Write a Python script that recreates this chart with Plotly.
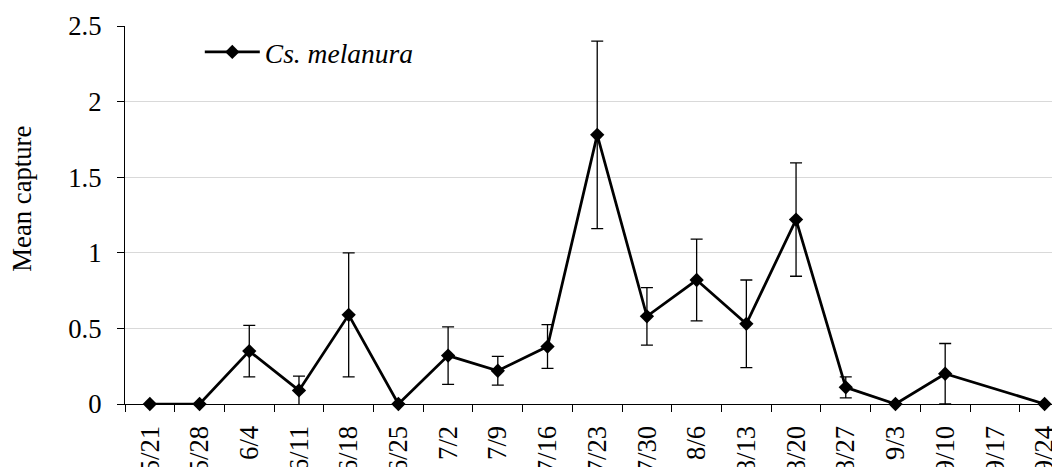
import plotly.graph_objects as go

dates = ["5/21", "5/28", "6/4", "6/11", "6/18", "6/25", "7/2", "7/9", "7/16", "7/23",
         "7/30", "8/6", "8/13", "8/20", "8/27", "9/3", "9/10", "9/17", "9/24"]
mean_capture = [0, 0, 0.35, 0.09, 0.59, 0, 0.32, 0.22, 0.38, 1.78,
                0.58, 0.82, 0.53, 1.22, 0.11, 0, 0.20, None, 0]
std_error = [None, None, 0.17, 0.095, 0.41, None, 0.19, 0.095, 0.145, 0.62,
             0.19, 0.27, 0.29, 0.375, 0.07, None, 0.20, None, None]

font = "Liberation Serif"
fsize = 26.7

fig = go.Figure()
fig.add_trace(
    go.Scatter(
        x=dates,
        y=mean_capture,
        name="<i>Cs. melanura</i>",
        mode="lines+markers",
        connectgaps=True,
        cliponaxis=False,
        line={"color": "black", "width": 2.75},
        marker={"symbol": "diamond", "size": 11, "color": "black"},
        error_y={"type": "data", "array": std_error, "visible": True,
                 "color": "black", "thickness": 1.3, "width": 6},
    )
)
fig.update_layout(
    template="none",
    width=1052,
    height=459,
    margin={"l": 117, "r": 0, "t": 18, "b": 63},
    plot_bgcolor="white",
    paper_bgcolor="white",
    font={"family": font, "size": fsize, "color": "black"},
    showlegend=True,
    legend={"x": 0.08, "y": 0.931, "xanchor": "left", "yanchor": "middle",
            "itemwidth": 55,
            "bgcolor": "rgba(0,0,0,0)", "font": {"family": font, "size": 27.5}},
)
fig.add_annotation(
    text="Mean capture", textangle=-90, showarrow=False,
    xref="paper", yref="paper", x=-0.110, y=0.5437,
    xanchor="center", yanchor="middle",
    font={"family": font, "size": fsize},
)
fig.update_xaxes(
    type="category",
    automargin=False,
    range=[-0.5, 18.31],
    showline=True, linecolor="black", linewidth=1.3,
    ticks="outside", tickson="boundaries", ticklen=7, tickcolor="black",
    tickangle=-90, showgrid=False, zeroline=False,
    ticklabelstandoff=10,
    tickfont={"family": font, "size": fsize},
)
fig.update_yaxes(
    automargin=False,
    range=[0, 2.5], dtick=0.5,
    showline=True, linecolor="black", linewidth=1.3,
    ticks="outside", ticklen=7, tickcolor="black",
    showgrid=True, gridcolor="#d9d9d9", gridwidth=1,
    zeroline=False,
    ticklabelstandoff=10,
    tickfont={"family": font, "size": fsize},
)
fig.write_html("out.html")
